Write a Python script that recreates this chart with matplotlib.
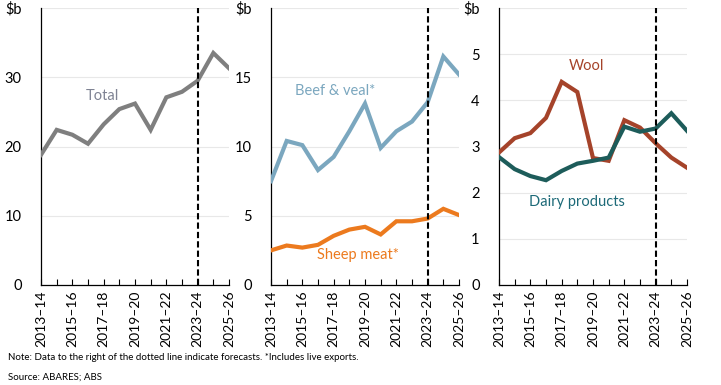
import numpy as np
import matplotlib
matplotlib.use('Agg')
import matplotlib.pyplot as plt

plt.rcParams['font.family'] = ['Lato', 'DejaVu Sans']
plt.rcParams['font.size'] = 10

years = ['2013–14', '2014–15', '2015–16', '2016–17', '2017–18', '2018–19', '2019–20',
         '2020–21', '2021–22', '2022–23', '2023–24', '2024–25', '2025–26']
forecast_from = '2023–24'

total = [18.8, 22.4, 21.7, 20.4, 23.2, 25.4, 26.2, 22.4, 27.1, 27.9, 29.5, 33.5, 31.3]
beef_veal = [7.5, 10.4, 10.1, 8.3, 9.25, 11.1, 13.1, 9.9, 11.1, 11.8, 13.2, 16.5, 15.2]
sheep_meat = [2.5, 2.85, 2.7, 2.9, 3.55, 4.0, 4.2, 3.65, 4.6, 4.6, 4.8, 5.5, 5.05]
wool = [2.87, 3.18, 3.29, 3.62, 4.40, 4.18, 2.75, 2.69, 3.57, 3.41, 3.07, 2.76, 2.54]
dairy = [2.77, 2.51, 2.36, 2.27, 2.47, 2.63, 2.69, 2.76, 3.43, 3.32, 3.39, 3.72, 3.34]

fig = plt.figure(figsize=(7.21, 3.85), dpi=100)

W = 188 / 721
H = 277 / 385
B = 1 - 285 / 385
lefts = [41 / 721, 271 / 721, 499 / 721]

# (values, line colour, label, label colour, label x, label y)
panels = [
    {'ymax': 40, 'step': 10,
     'series': [(total, '#7f7f7f', 'Total', '#7f8393', 3.9, 27.3)]},
    {'ymax': 20, 'step': 5,
     'series': [(beef_veal, '#7ba7bf', 'Beef & veal*', '#7ba7bf', 4.1, 14.0),
                (sheep_meat, '#ec7a1e', 'Sheep meat*', '#ec7a1e', 5.55, 2.17)]},
    {'ymax': 6, 'step': 1,
     'series': [(wool, '#a5432a', 'Wool', '#a5432a', 5.6, 4.74),
                (dairy, '#1d5c5a', 'Dairy products', '#1d6a78', 4.95, 1.8)]},
]

x = np.arange(len(years))
xf = years.index(forecast_from)

for left, p in zip(lefts, panels):
    ax = fig.add_axes([left, B, W, H])
    for vals, col, label, lcol, lx, ly in p['series']:
        ax.plot(x, vals, color=col, linewidth=3, solid_joinstyle='miter', zorder=3)
        ax.text(lx, ly, label, color=lcol, fontsize=10.5, ha='center', va='center')
    ax.axvline(xf, color='black', linestyle=(0, (3, 1.5)), linewidth=1.5, zorder=4)

    ax.set_xlim(0, len(years) - 1)
    ax.set_ylim(0, p['ymax'])
    yt = np.arange(0, p['ymax'] + p['step'] / 2, p['step'])
    ax.set_yticks(yt)
    ylabels = [f'{v:g}' for v in yt]
    ylabels[-1] = '\\$b'
    ax.set_yticklabels(ylabels)
    ax.tick_params(axis='y', length=0, pad=14, labelsize=10.5)
    ax.grid(axis='y', color='#e8e8e8', linewidth=0.8, zorder=0)

    ax.set_xticks(x)
    ax.set_xticklabels([y if i % 2 == 0 else '' for i, y in enumerate(years)],
                       rotation=90, fontsize=10)
    ax.tick_params(axis='x', direction='in', length=4, width=0.8, pad=4)

    for s in ['top', 'right']:
        ax.spines[s].set_visible(False)
    for s in ['left', 'bottom']:
        ax.spines[s].set_color('black')
        ax.spines[s].set_linewidth(0.9)

fig.text(8 / 721, 1 - 357 / 385,
         'Note: Data to the right of the dotted line indicate forecasts. *Includes live exports.',
         fontsize=7, va='center', ha='left')
fig.text(8 / 721, 1 - 377 / 385, 'Source: ABARES; ABS', fontsize=7, va='center', ha='left')

fig.savefig('out.png', dpi=100)
